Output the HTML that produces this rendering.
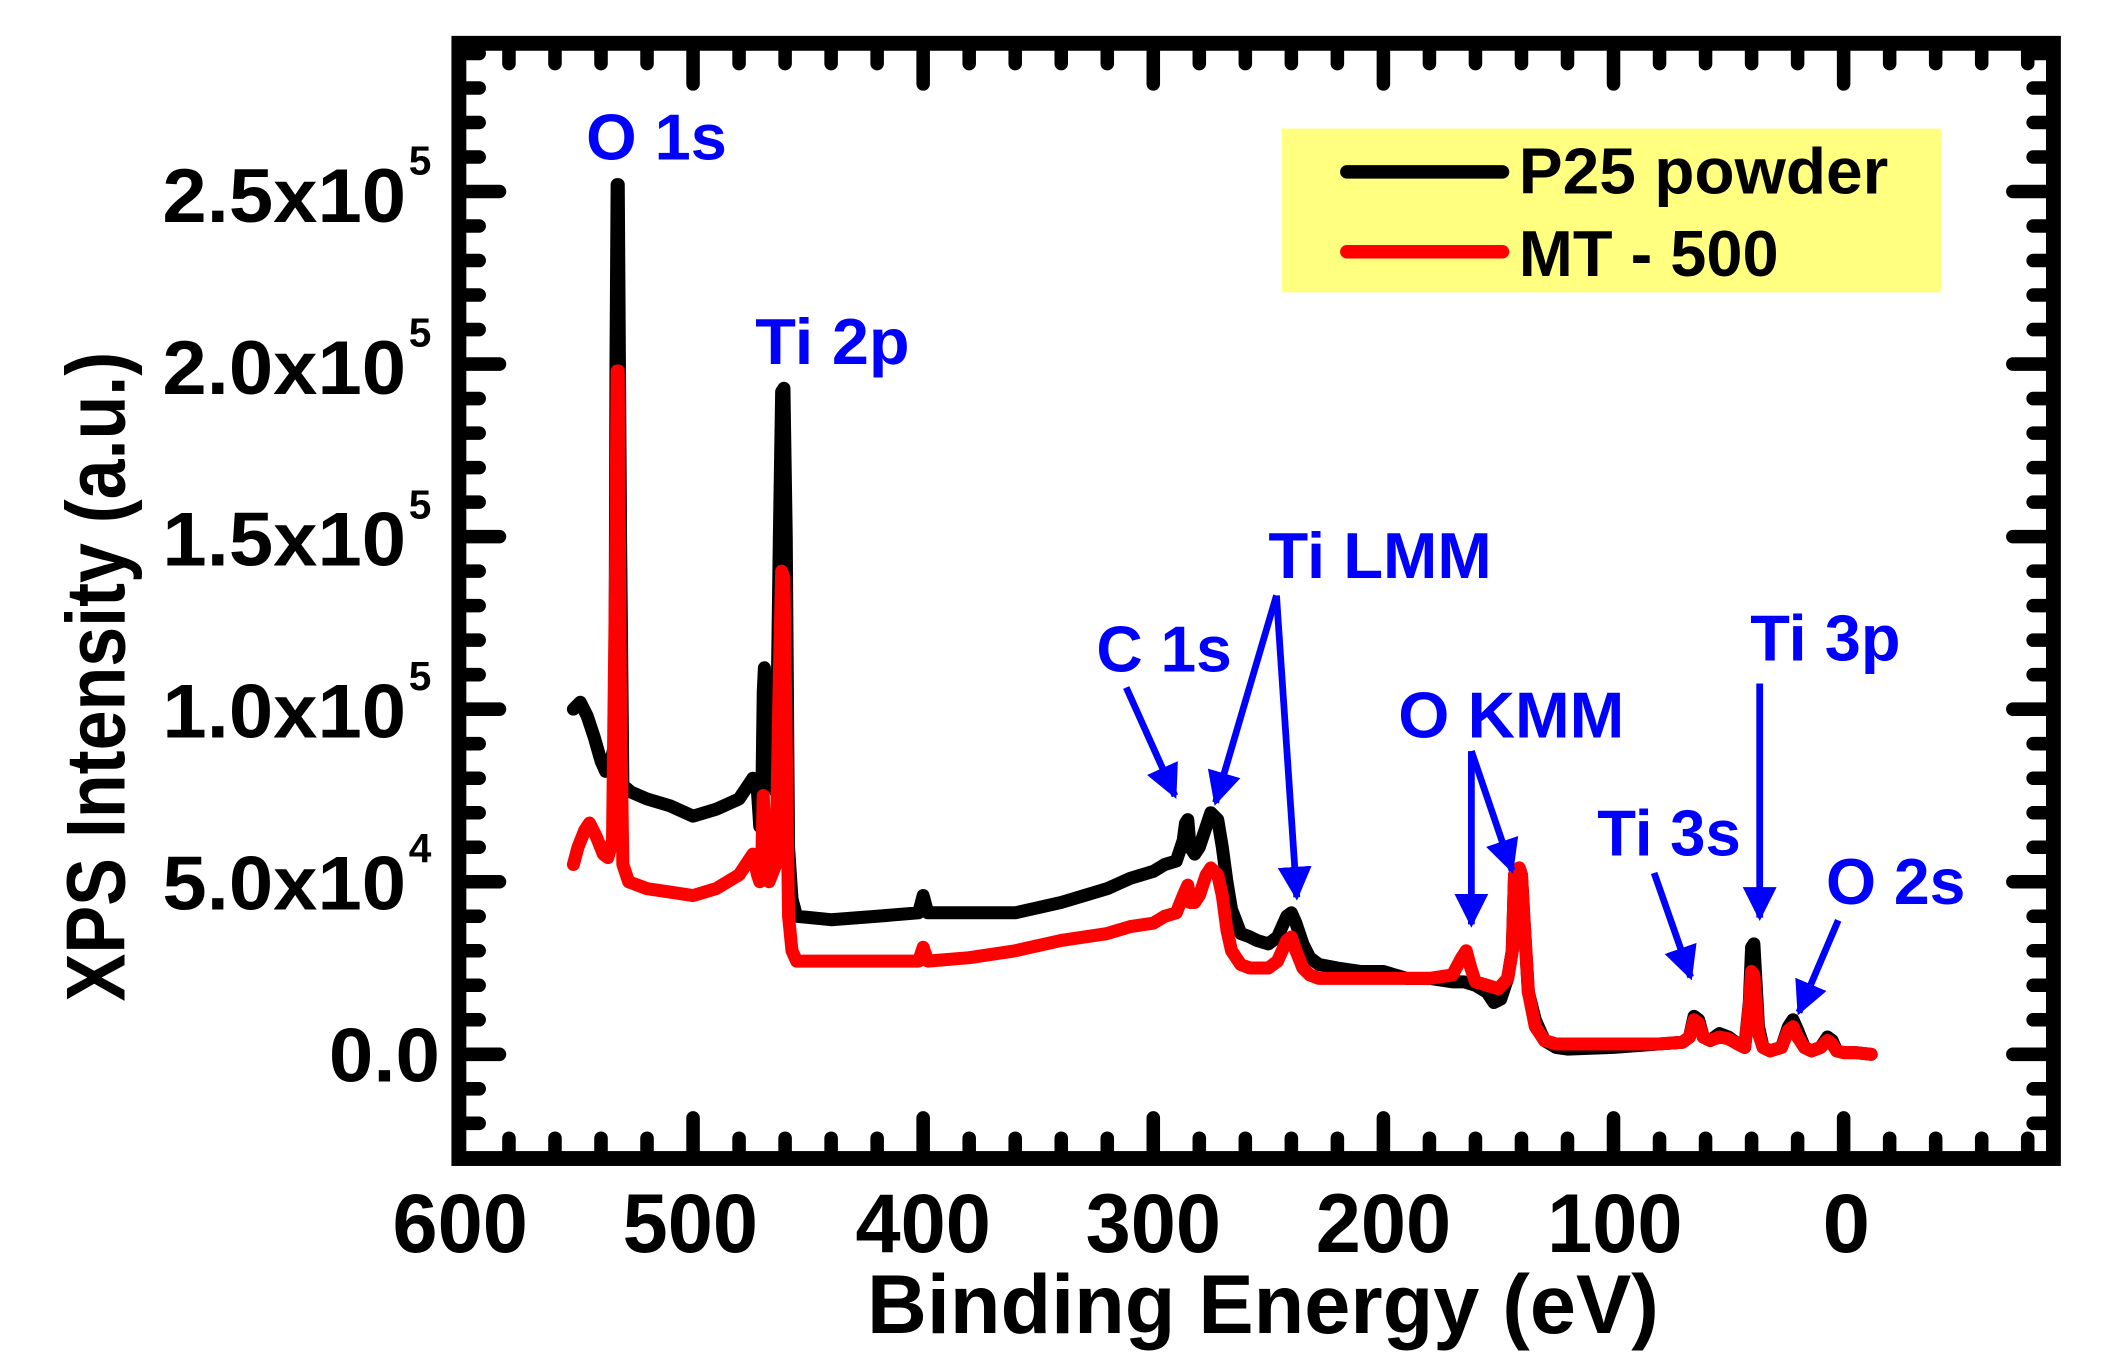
<!DOCTYPE html>
<html><head><meta charset="utf-8"><style>html,body{margin:0;padding:0;background:#fff}svg{display:block}</style></head>
<body>
<svg width="2113" height="1371" viewBox="0 0 1561 1013" preserveAspectRatio="none" xmlns="http://www.w3.org/2000/svg" font-family="Liberation Sans, Arial, sans-serif" font-weight="bold">
<rect x="947" y="95" width="487" height="121" fill="#FFFF80"/>
<line x1="995" y1="127" x2="1110" y2="127" stroke="#000" stroke-width="10" stroke-linecap="round"/>
<line x1="995" y1="186" x2="1110" y2="186" stroke="#f00" stroke-width="10" stroke-linecap="round"/>
<text x="1122" y="143" font-size="48" textLength="273" lengthAdjust="spacingAndGlyphs">P25 powder</text>
<text x="1122" y="204" font-size="48" textLength="192" lengthAdjust="spacingAndGlyphs">MT - 500</text>

<g stroke="#000" stroke-width="10" stroke-linecap="round" id="tk"></g>
<script>
(function(){var g=document.getElementById('tk'),d='';
for(var E=600;E>=-90;E-=20){var x=1362-1.7*E;if(x<344||x>1512)continue;var L=(E%100===0)?30:15;d+='M'+x.toFixed(1)+',32v'+L+' M'+x.toFixed(1)+',856v-'+L+' ';}
for(var k=-30;k<=300;k+=10){var y=779-2.55*k;if(y>851||y<37)continue;var L=(k%50===0)?30:15;d+='M339,'+y.toFixed(1)+'h'+L+' M1517,'+y.toFixed(1)+'h-'+L+' ';}
var p=document.createElementNS('http://www.w3.org/2000/svg','path');p.setAttribute('d',d);g.appendChild(p);})();
</script>
<rect x="339" y="32" width="1178" height="824" fill="none" stroke="#000" stroke-width="11"/>

<g transform="matrix(-1.7 0 0 -2.55 1362 779)" fill="none" stroke-linejoin="round" stroke-linecap="round">
<polyline vector-effect="non-scaling-stroke" stroke="#000" stroke-width="13" points="552,100 549,102 546,98 543,92 540,85 538,82 536,84 534,90 533.5,200 533,252 532.5,252 531.5,150 530.5,78 527,76 520,74 510,72 500,69 490,71 480,74 476,78 474,80 472,76 471,66 470,80 469.5,105 469,112 468,95 467,80 464,76 462.5,150 461.5,192 460.5,193 459.5,150 458.5,60 457,45 455,40 440,39 420,40 402,41 400,46 398,41 380,41 360,41 340,44 320,48 310,51 300,53 295,55 290,56 287,62 286,67 285,68 284,60 282,58 280,60 277,66 275,70 272,68 270,60 268,50 266,42 262,35 258,34 255,33 250,32 246,34 242,40 240,41 238,38 235,32 232,28 228,26 220,25 210,24 200,24 190,22 180,22 170,21 165,21 160,20 155,18 152,15 149,16 146,22 144,30 143,52 141,54 140,52 139,40 137,18 134,10 130,4 125,2 120,1.5 100,2 80,3 70,3.5 67,5 65,11 63,10 61,5 58,4 54,6 50,5 46,3 43,2 41,15 40,31 39,32 38,20 37,8 35,2 32,1 27,2 24,8 22,10 20,7 17,2 14,1 10,2 7,5 5,4 3,1 0,0.5 -5,0.5 -12,0"/>
<polyline vector-effect="non-scaling-stroke" stroke="#f00" stroke-width="13" points="552,55 550,60 547,65 545,67 542,63 539,58 537,57 535,62 533.5,150 533,198 532.5,198 531.5,100 530.5,55 528,50 520,48 510,47 500,46 490,48 480,52 476,56 474,58 472,52 471,50 470,60 469.5,75 468.5,60 467,50 464,55 462.5,110 461.5,140 460.5,138 459.5,90 458.5,40 457,30 455,27 440,27 420,27 402,27 400,31 398,27 380,28 360,30 340,33 320,35 310,37 300,38 295,40 290,41 287,46 285,49 284,44 282,44 280,46 277,52 275,54 272,52 270,46 268,36 266,30 262,26 258,25 255,25 250,25 246,27 242,33 240,34 238,30 235,25 232,23 228,22 220,22 200,22 180,22 170,23 166,28 164,30 162,25 160,21 155,20 150,19 146,22 144,30 143,52 141,54 140,52 139,40 137,18 134,8 130,4 125,3 100,3 80,3 70,3.5 67,5 65,10 63,9 61,5 58,4 54,5 50,4.5 46,3 43,2 41,14 40,24 39,23 38,15 37,6 35,2 32,1 27,2 24,7 22,8 20,5 17,2 14,1 10,2 7,4 5,3 3,1 0,0.5 -5,0.5 -12,0"/>
</g>

<g fill="#000" font-size="62">
<text x="340" y="925" text-anchor="middle" textLength="100" lengthAdjust="spacingAndGlyphs">600</text>
<text x="510" y="925" text-anchor="middle" textLength="100" lengthAdjust="spacingAndGlyphs">500</text>
<text x="682" y="925" text-anchor="middle" textLength="100" lengthAdjust="spacingAndGlyphs">400</text>
<text x="852" y="925" text-anchor="middle" textLength="100" lengthAdjust="spacingAndGlyphs">300</text>
<text x="1022" y="925" text-anchor="middle" textLength="100" lengthAdjust="spacingAndGlyphs">200</text>
<text x="1193" y="925" text-anchor="middle" textLength="100" lengthAdjust="spacingAndGlyphs">100</text>
<text x="1364" y="925" text-anchor="middle" textLength="35" lengthAdjust="spacingAndGlyphs">0</text>
<text x="933" y="985" text-anchor="middle" textLength="585" lengthAdjust="spacingAndGlyphs">Binding Energy (eV)</text>
<text transform="translate(92,500) rotate(-90)" text-anchor="middle" textLength="480" lengthAdjust="spacingAndGlyphs">XPS Intensity (a.u.)</text>
</g>
<g fill="#000" font-size="56">
<text x="243" y="799" textLength="82" lengthAdjust="spacingAndGlyphs">0.0</text>
<text x="120" y="672" textLength="180" lengthAdjust="spacingAndGlyphs">5.0x10</text><text x="302" y="637" font-size="30">4</text>
<text x="120" y="545" textLength="180" lengthAdjust="spacingAndGlyphs">1.0x10</text><text x="302" y="510" font-size="30">5</text>
<text x="120" y="418" textLength="180" lengthAdjust="spacingAndGlyphs">1.5x10</text><text x="302" y="383" font-size="30">5</text>
<text x="120" y="291" textLength="180" lengthAdjust="spacingAndGlyphs">2.0x10</text><text x="302" y="256" font-size="30">5</text>
<text x="120" y="164" textLength="180" lengthAdjust="spacingAndGlyphs">2.5x10</text><text x="302" y="129" font-size="30">5</text>
</g>

<g fill="#0000FF" font-size="48">
<text x="433" y="118" textLength="104" lengthAdjust="spacingAndGlyphs">O 1s</text>
<text x="558" y="269" textLength="114" lengthAdjust="spacingAndGlyphs">Ti 2p</text>
<text x="937" y="427" textLength="165" lengthAdjust="spacingAndGlyphs">Ti LMM</text>
<text x="810" y="496" textLength="100" lengthAdjust="spacingAndGlyphs">C 1s</text>
<text x="1033" y="545" textLength="167" lengthAdjust="spacingAndGlyphs">O KMM</text>
<text x="1293" y="488" textLength="111" lengthAdjust="spacingAndGlyphs">Ti 3p</text>
<text x="1180" y="632" textLength="106" lengthAdjust="spacingAndGlyphs">Ti 3s</text>
<text x="1349" y="668" textLength="103" lengthAdjust="spacingAndGlyphs">O 2s</text>
</g>
<defs><marker id="ah" viewBox="0 0 10 10" refX="9" refY="5" markerWidth="5" markerHeight="5" orient="auto"><path d="M0,0L10,5L0,10z" fill="#0000FF"/></marker></defs>
<g stroke="#0000FF" stroke-width="5" fill="none" marker-end="url(#ah)">
<line x1="832" y1="508" x2="868" y2="588"/>
<line x1="943" y1="440" x2="898" y2="593"/>
<line x1="943" y1="440" x2="958" y2="663"/>
<line x1="1087" y1="555" x2="1087" y2="683"/>
<line x1="1087" y1="555" x2="1117" y2="643"/>
<line x1="1222" y1="645" x2="1249" y2="722"/>
<line x1="1300" y1="505" x2="1300" y2="678"/>
<line x1="1358" y1="680" x2="1329" y2="748"/>
</g>
</svg>
</body></html>
